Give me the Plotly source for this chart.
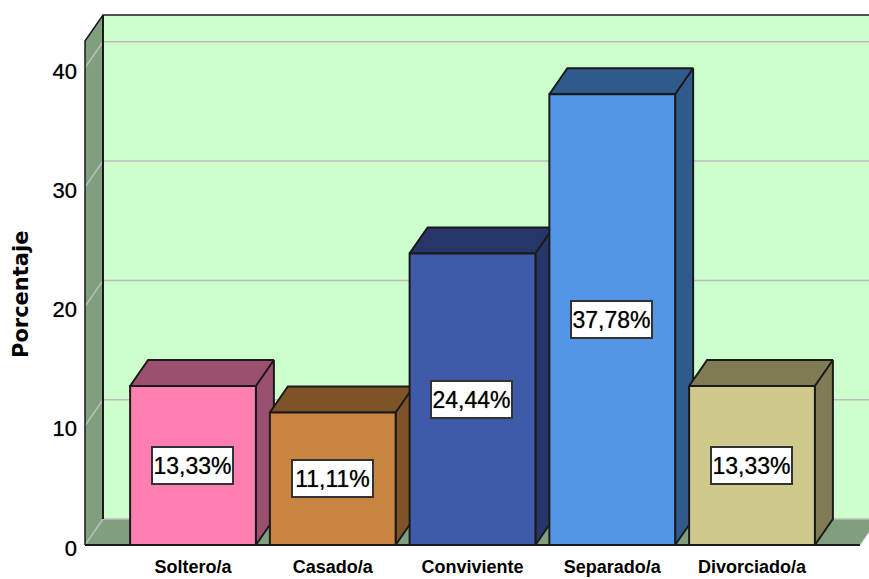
import plotly.graph_objects as go

categorias = ["Soltero/a", "Casado/a", "Conviviente", "Separado/a", "Divorciado/a"]
porcentajes = [13.33, 11.11, 24.44, 37.78, 13.33]
colores = ["#ff7fb2", "#c98540", "#3f5aa8", "#5496e6", "#cfc98c"]
colores_oscuros = ["#9c5070", "#7d5327", "#263668", "#305a8c", "#7f7b55"]
grid_vals = [10, 20, 30, 40]
y_ticks = [0, 10, 20, 30, 40]

# escala en pixeles de la figura original
PX_X = 139.75
PX_Y = 11.93
ANCHO = 0.9
DX = 18 / PX_X   # profundidad del efecto 3D
DY = 26 / PX_Y
X_MIN = -(193 - 80) / PX_X
X_MAX = (869 - 193) / PX_X
Y_MIN = -5 / PX_Y
Y_MAX = 535 / PX_Y
PARED_X = -(193 - 85) / PX_X
SUELO_X = (860 - 193) / PX_X
TECHO = (545 - 41) / PX_Y
VERDE = "#ccffcc"
VERDE_OSC = "#7f9f7f"
GRIS = "#bdbdbd"
NEGRO = "#1a1a1a"
SOMBRA = "0 0 1px rgba(0,0,0,0.6)"

fig = go.Figure()


def poligono(xs, ys, color):
    fig.add_trace(go.Scatter(x=xs, y=ys, mode="lines", fill="toself", fillcolor=color,
                             line=dict(width=0), hoverinfo="skip", showlegend=False))


def linea(xs, ys, color, width=1.5):
    fig.add_trace(go.Scatter(x=xs, y=ys, mode="lines", line=dict(color=color, width=width),
                             hoverinfo="skip", showlegend=False))


# Paredes y suelo
poligono([PARED_X + DX, X_MAX + 1, X_MAX + 1, PARED_X + DX],
         [DY, DY, TECHO + DY, TECHO + DY], VERDE)
poligono([PARED_X, PARED_X + DX, PARED_X + DX, PARED_X],
         [0, DY, TECHO + DY, TECHO], VERDE_OSC)
poligono([PARED_X, SUELO_X, SUELO_X + DX, PARED_X + DX],
         [0, 0, DY, DY], VERDE_OSC)

# Lineas de cuadricula
for g in [0] + grid_vals:
    linea([PARED_X, PARED_X + DX, X_MAX + 1], [g, g + DY, g + DY], GRIS)

# Bordes de las paredes
linea([PARED_X, PARED_X, PARED_X + DX, X_MAX + 1], [0, TECHO, TECHO + DY, TECHO + DY], NEGRO)
linea([PARED_X + DX, PARED_X + DX], [DY, TECHO + DY], NEGRO, 2)
linea([PARED_X, SUELO_X], [0, 0], NEGRO, 2)
linea([SUELO_X, SUELO_X + DX], [0, DY], GRIS, 1)

# Caras laterales y superiores de cada barra, de izquierda a derecha
for i, v in enumerate(porcentajes):
    x0, x1 = i - ANCHO / 2, i + ANCHO / 2
    fig.add_trace(go.Scatter(
        x=[x0, x1, x1 + DX, x1 + DX, x1, x1, x1 + DX, x0 + DX, x0],
        y=[v, v, v + DY, DY, 0, v, v + DY, v + DY, v],
        mode="lines", fill="toself", fillcolor=colores_oscuros[i],
        line=dict(color=NEGRO, width=2), hoverinfo="skip", showlegend=False))

# Caras frontales en un eje superpuesto para que queden encima
fig.add_trace(go.Bar(x=list(range(5)), y=porcentajes, width=ANCHO, xaxis="x2", yaxis="y2",
                     marker=dict(color=colores, line=dict(color=NEGRO, width=2)),
                     showlegend=False))

for i, v in enumerate(porcentajes):
    fig.add_annotation(x=i - 0.005, y=v / 2, xref="x2", yref="y2", showarrow=False,
                       text=f"{v:.2f}".replace(".", ",") + "%",
                       font=dict(family="Liberation Sans", size=23, color="black", shadow=SOMBRA),
                       bgcolor="white", bordercolor="#333333", borderwidth=2,
                       width=79, height=35, borderpad=0)

fig.add_annotation(x=(21 - 80) / 789, y=(550 - 294) / 540, xref="paper", yref="paper",
                   xanchor="center", yanchor="middle", text="<b>Porcentaje</b>",
                   showarrow=False, textangle=-90,
                   font=dict(family="DejaVu Sans", size=21, color="black"))

fig.update_layout(
    width=869, height=579,
    margin=dict(l=80, r=0, t=10, b=29, pad=0),
    paper_bgcolor="white", plot_bgcolor="white",
    barmode="overlay",
    xaxis=dict(range=[X_MIN, X_MAX], tickmode="array", tickvals=list(range(5)), ticktext=categorias,
               showgrid=False, zeroline=False, showline=False, ticks="", ticklabelstandoff=4,
               tickfont=dict(family="Liberation Sans", size=18, color="black", weight="bold")),
    yaxis=dict(range=[Y_MIN, Y_MAX], tickmode="array", tickvals=y_ticks,
               showgrid=False, zeroline=False, showline=False, ticks="",
               ticklabelshift=3, ticklabelstandoff=2,
               tickfont=dict(family="Liberation Sans", size=22, color="black", shadow=SOMBRA)),
    xaxis2=dict(range=[X_MIN, X_MAX], overlaying="x", visible=False),
    yaxis2=dict(range=[Y_MIN, Y_MAX], overlaying="y", visible=False),
)

fig.write_html("out.html", config=dict(displayModeBar=False),
               post_script="document.body.style.margin='0';")
